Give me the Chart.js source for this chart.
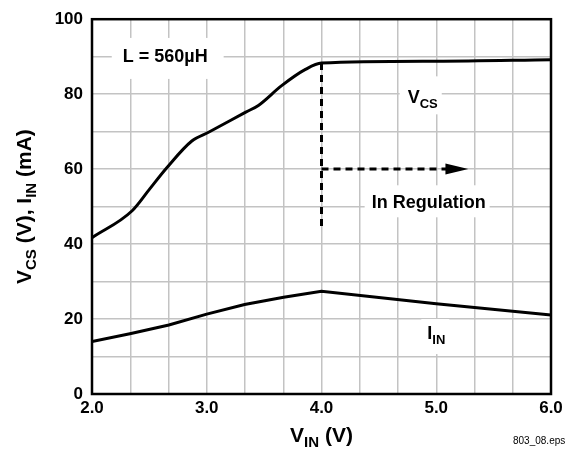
<!DOCTYPE html>
<html>
<head>
<meta charset="utf-8">
<script src="https://cdn.jsdelivr.net/npm/chart.js@4"></script>
<style>
  html, body { margin: 0; padding: 0; background: #fff; }
</style>
</head>
<body>
<canvas id="chart" width="572" height="452"></canvas>
<script>
// Curve data
const vinVcs = [2.0, 2.35, 2.5, 2.65, 2.87, 3.02, 3.34, 3.45, 3.65, 3.86, 4.0, 5.0, 6.0];
const vcs = [41.7, 48.9, 54.6, 60.3, 67.5, 69.9, 75.2, 77.0, 82.2, 86.6, 88.3, 88.8, 89.2];
const vinIin = [2.0, 2.33, 2.67, 3.0, 3.33, 3.67, 4.0, 5.0, 6.0];
const iin = [14.0, 16.1, 18.4, 21.3, 23.9, 25.8, 27.4, 24.1, 21.1];

// Axis tick labels
const xTickValues = [2, 3, 4, 5, 6];
const xTickLabels = ['2.0', '3.0', '4.0', '5.0', '6.0'];
const yTickLabels = ['0', '20', '40', '60', '80', '100'];

const FONT = "'Liberation Sans', Arial, Helvetica, sans-serif";

function toPoints(xs, ys) {
	return xs.map((x, i) => ({ x: x, y: ys[i] }));
}

// draws text made of parts, each part may be a subscript
function richWidth(ctx, parts) {
	let w = 0;
	parts.forEach(p => {
		ctx.font = 'bold ' + p.size + 'px ' + FONT;
		w += ctx.measureText(p.t).width;
	});
	return w;
}

function drawRich(ctx, parts, x, y) {
	let cx = x;
	ctx.textAlign = 'left';
	ctx.textBaseline = 'alphabetic';
	parts.forEach(p => {
		ctx.font = 'bold ' + p.size + 'px ' + FONT;
		ctx.fillText(p.t, cx, y + (p.dy || 0));
		cx += ctx.measureText(p.t).width;
	});
}

const annotations = [
	{ parts: [{ t: 'L = 560\u00b5H', size: 18 }], x: 2.268, y: 88.6, pad: [11, 16, 24, 17] },
	{ parts: [{ t: 'V', size: 18 }, { t: 'CS', size: 13, dy: 4.5 }], x: 4.751, y: 77.55, pad: [8, 4, 27, 11] },
	{ parts: [{ t: 'In Regulation', size: 18 }], x: 4.437, y: 49.55, pad: [7, 4, 23, 9] },
	{ parts: [{ t: 'I', size: 18 }, { t: 'IN', size: 13, dy: 4.5 }], x: 4.922, y: 14.66, pad: [6, 4, 20, 15] }
];

const decorPlugin = {
	id: 'decor',
	beforeDatasetsDraw(chart) {
		const ctx = chart.ctx;
		const xs = chart.scales.x, ys = chart.scales.y;
		ctx.save();
		// white boxes behind labels, then the labels
		annotations.forEach(a => {
			const px = xs.getPixelForValue(a.x), py = ys.getPixelForValue(a.y);
			const w = richWidth(ctx, a.parts);
			ctx.fillStyle = '#fff';
			ctx.fillRect(px - a.pad[0], py - a.pad[2], w + a.pad[0] + a.pad[1], a.pad[2] + a.pad[3]);
		});
		ctx.fillStyle = '#000';
		annotations.forEach(a => {
			drawRich(ctx, a.parts, xs.getPixelForValue(a.x), ys.getPixelForValue(a.y));
		});

		// dashed "In Regulation" marker
		const x4 = xs.getPixelForValue(4.0);
		const y60 = ys.getPixelForValue(60);
		ctx.strokeStyle = '#000';
		ctx.lineWidth = 3;
		ctx.setLineDash([7, 5]);
		ctx.beginPath();
		ctx.moveTo(x4, ys.getPixelForValue(88.3));
		ctx.lineTo(x4, ys.getPixelForValue(43.7));
		ctx.moveTo(x4, y60);
		ctx.lineTo(xs.getPixelForValue(5.09), y60);
		ctx.stroke();
		ctx.setLineDash([]);
		const base = xs.getPixelForValue(5.08), tip = xs.getPixelForValue(5.28);
		ctx.beginPath();
		ctx.moveTo(base, y60 - 5.5);
		ctx.lineTo(tip, y60);
		ctx.lineTo(base, y60 + 5.5);
		ctx.closePath();
		ctx.fill();
		ctx.restore();
	},
	afterDatasetsDraw(chart) {
		const ctx = chart.ctx;
		const a = chart.chartArea;
		ctx.save();
		ctx.strokeStyle = '#000';
		ctx.lineWidth = 2.5;
		ctx.strokeRect(a.left, a.top, a.right - a.left, a.bottom - a.top);

		ctx.fillStyle = '#000';
		// x axis title
		const xParts = [{ t: 'V', size: 21 }, { t: 'IN', size: 15, dy: 5 }, { t: ' (V)', size: 21 }];
		const xw = richWidth(ctx, xParts);
		drawRich(ctx, xParts, (a.left + a.right) / 2 - xw / 2, 442);

		// y axis title
		const yParts = [
			{ t: 'V', size: 21 }, { t: 'CS', size: 15, dy: 5 }, { t: ' (V), I', size: 21 },
			{ t: 'IN', size: 15, dy: 5 }, { t: ' (mA)', size: 21 }
		];
		const yw = richWidth(ctx, yParts);
		ctx.translate(31, (a.top + a.bottom) / 2);
		ctx.rotate(-Math.PI / 2);
		drawRich(ctx, yParts, -yw / 2, 0);
		ctx.restore();

		ctx.save();
		ctx.fillStyle = '#000';
		ctx.font = '10px ' + FONT;
		ctx.textAlign = 'left';
		ctx.fillText('803_08.eps', 513, 444);
		ctx.restore();
	}
};

new Chart(document.getElementById('chart'), {
	type: 'line',
	data: {
		datasets: [{
			label: 'VCS',
			data: toPoints(vinVcs, vcs),
			borderColor: '#000',
			borderWidth: 3,
			pointRadius: 0,
			cubicInterpolationMode: 'monotone',
			fill: false
		}, {
			label: 'IIN',
			data: toPoints(vinIin, iin),
			borderColor: '#000',
			borderWidth: 3,
			pointRadius: 0,
			tension: 0,
			fill: false
		}]
	},
	options: {
		responsive: false,
		animation: false,
		devicePixelRatio: 1,
		layout: { padding: { top: 14, right: 21, left: 0, bottom: 0 } },
		plugins: {
			legend: { display: false },
			tooltip: { enabled: false }
		},
		scales: {
			x: {
				type: 'linear',
				min: 2,
				max: 6,
				afterBuildTicks(scale) {
					const t = [];
					for (let i = 0; i <= 12; i++) t.push({ value: 2 + i / 3 });
					scale.ticks = t;
				},
				afterFit(scale) { scale.height = 58; },
				grid: { color: '#c3c3c3', lineWidth: 1.5, drawTicks: false },
				border: { display: false },
				ticks: {
					autoSkip: false,
					maxRotation: 0,
					padding: 4,
					color: '#000',
					font: { family: FONT, size: 17, weight: 'bold' },
					callback(v) {
						const i = xTickValues.findIndex(t => Math.abs(t - v) < 1e-6);
						return i >= 0 ? xTickLabels[i] : '';
					}
				}
			},
			y: {
				min: 0,
				max: 100,
				afterFit(scale) { scale.width = 92; },
				grid: { color: '#c3c3c3', lineWidth: 1.5, drawTicks: false },
				border: { display: false },
				ticks: {
					stepSize: 10,
					autoSkip: false,
					padding: 9,
					color: '#000',
					font: { family: FONT, size: 17, weight: 'bold' },
					callback(v) {
						const s = String(v);
						return yTickLabels.includes(s) ? s : '';
					}
				}
			}
		}
	},
	plugins: [decorPlugin]
});
</script>
</body>
</html>
